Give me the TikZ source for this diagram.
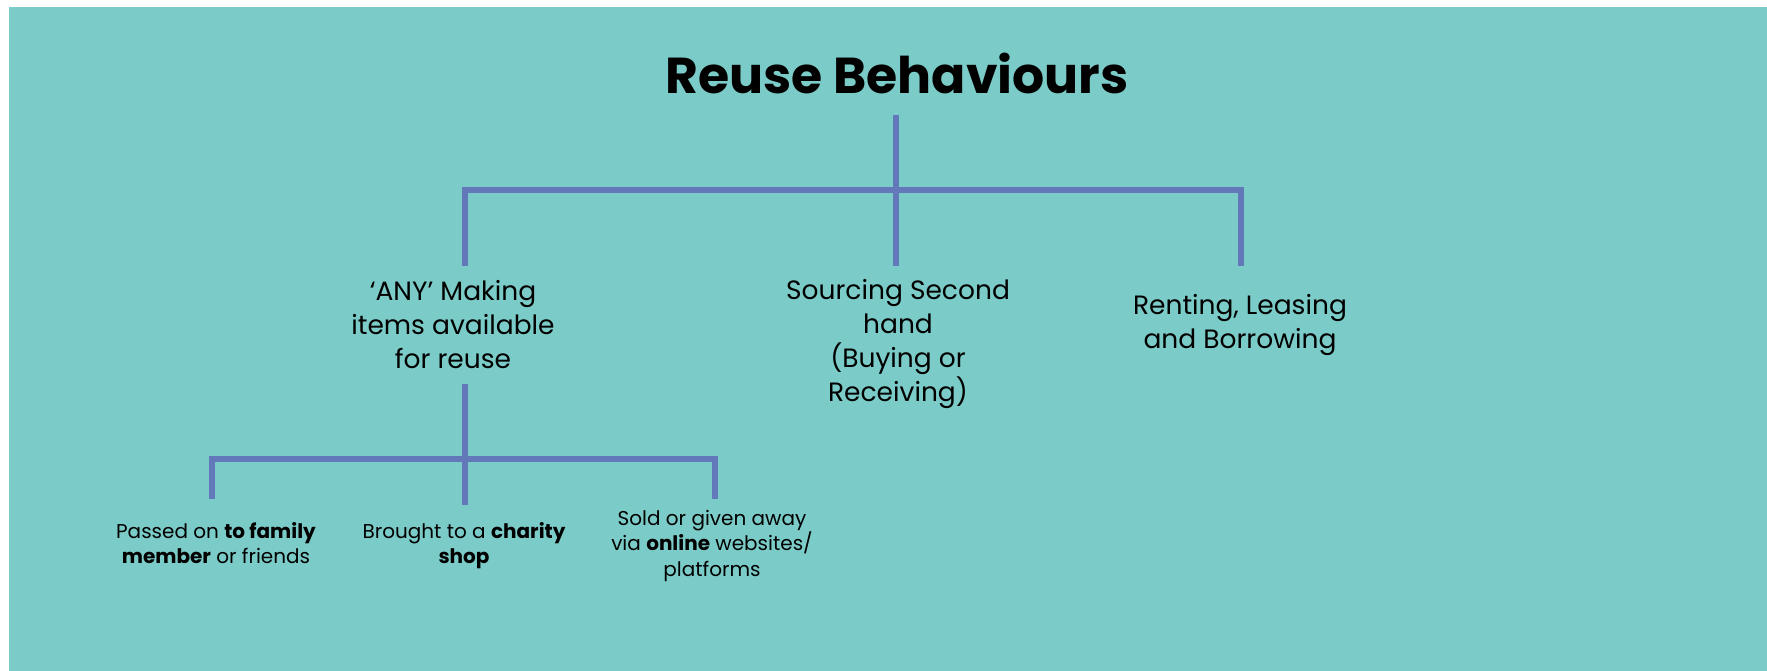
\documentclass[tikz,border=0pt]{standalone}
\usepackage{fontspec}
\setmainfont{Poppins}
\definecolor{bgteal}{HTML}{7BCCC8}
\definecolor{linkblue}{HTML}{6278B8}
\begin{document}
\begin{tikzpicture}[x=1pt,y=-1pt,
  conn/.style={draw=linkblue,line width=5.5pt,line join=miter,line cap=butt},
  titletext/.style={inner sep=0pt,anchor=base,font=\fontsize{50.5}{60}\selectfont\bfseries},
  midtext/.style={inner sep=0pt,align=center,font=\fontsize{26.5}{34}\selectfont,
    execute at begin node=\strut,execute at end node=\strut},
  smalltext/.style={inner sep=0pt,align=center,font=\fontsize{20}{25.5}\selectfont,
    execute at begin node=\strut,execute at end node=\strut}]
\useasboundingbox (0,0) rectangle (1767,671);
\fill[white] (0,0) rectangle (1767,671);
\fill[bgteal] (9,7) rectangle (1767,671);

\node[titletext] (title) at (897,94) {Reuse Behaviours};

\node[midtext] (any) at (453,330) {‘ANY’ Making\\items available\\for reuse};
\node[midtext] (src) at (898,346) {Sourcing Second\\hand\\(Buying or\\Receiving)};
\node[midtext] (rent) at (1240,327) {Renting, Leasing\\and Borrowing};

\node[smalltext] (fam) at (216,547) {Passed on \textbf{to family}\\\textbf{member} or friends};
\node[smalltext] (shop) at (464,547) {Brought to a \textbf{charity}\\\textbf{shop}};
\node[smalltext] (online) at (712,547) {Sold or given away\\via \textbf{online} websites/\\platforms};

% top level tree
\coordinate (rootTop) at (896,115);
\coordinate (busL) at (465,190);
\coordinate (busR) at (1241,190);
\coordinate (anyTop) at (465,266);
\coordinate (srcTop) at (896,266);
\coordinate (rentTop) at (1241,266);
\draw[conn] (rootTop) -- (srcTop);
\draw[conn] (anyTop) -- (busL) -- (busR) -- (rentTop);

% second level tree
\coordinate (anyBot) at (465,384);
\coordinate (shopTop) at (465,505);
\coordinate (bus2L) at (212,459);
\coordinate (bus2R) at (715,459);
\coordinate (famTop) at (212,499);
\coordinate (onlineTop) at (715,499);
\draw[conn] (anyBot) -- (shopTop);
\draw[conn] (famTop) -- (bus2L) -- (bus2R) -- (onlineTop);
\end{tikzpicture}
\end{document}
